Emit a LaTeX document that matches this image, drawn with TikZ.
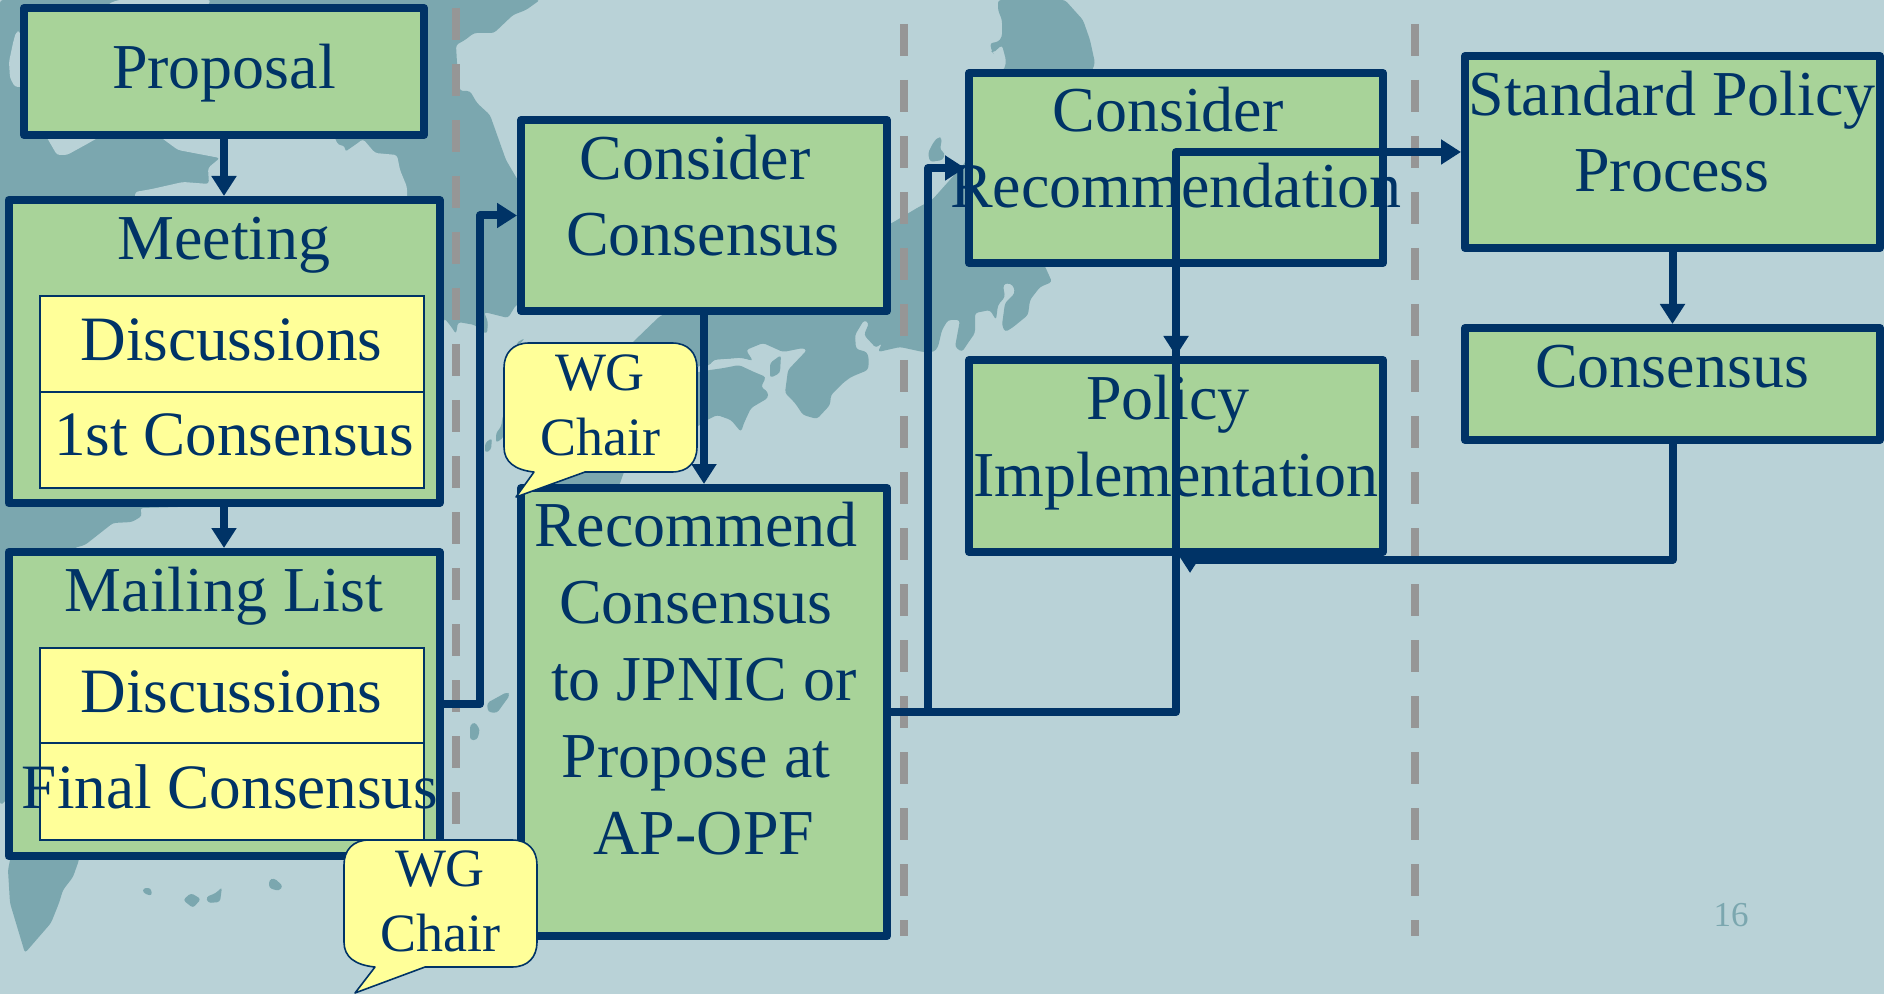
\documentclass[tikz,border=0pt]{standalone}
\usepackage{fontspec}
\setmainfont{Liberation Serif}
\usetikzlibrary{arrows.meta}

\definecolor{seablue}{HTML}{B9D2D7}
\definecolor{landblue}{HTML}{7BA7AF}
\definecolor{boxgreen}{HTML}{A8D399}
\definecolor{noteyellow}{HTML}{FFFF99}
\definecolor{linenavy}{HTML}{003366}
\definecolor{dashgray}{HTML}{969696}

% trailing blank of a centred line
\newcommand{\tailsp}{\hbox to .25em{}}

\tikzset{
	land/.style={fill=landblue, rounded corners=1.5pt},
	sea/.style={fill=seablue, rounded corners=1.5pt},
	phase/.style={draw=dashgray, line width=4pt, dash pattern=on 16pt off 12pt},
	stagebox/.style={draw=linenavy, fill=boxgreen, line width=4pt, line join=round, inner sep=0pt},
	notebox/.style={draw=linenavy, fill=noteyellow, line width=1pt, inner sep=0pt},
	boxtext/.style={text=linenavy, inner sep=0pt, align=center, anchor=base, font=\fontsize{32}{38.4}\selectfont},
	notetext/.style={boxtext, font=\fontsize{31.6}{38}\selectfont},
	chairtext/.style={text=linenavy, inner sep=0pt, align=center, anchor=base, font=\fontsize{27}{32.4}\selectfont},
	bubble/.style={draw=linenavy, fill=noteyellow, line width=.8pt, line join=round},
	flow/.style={color=linenavy, line width=4pt, line join=round, -{Triangle[length=10pt,width=12pt]}}
}

\begin{document}
\begin{tikzpicture}[x=.5pt, y=-.5pt]
\useasboundingbox (0,0) rectangle (1884,994);
\fill[seablue] (0,0) rectangle (1884,994);

% map
\path[land] (0,0) -- (540,0) -- (526,10) -- (513,15) -- (494,33) -- (474,33) -- (465,40) -- (456,45) -- (457,63) -- (460,91) -- (470,91) -- (477,103) -- (490,115) -- (506,160) -- (516,177) -- (530,200) -- (530,300) -- (516,305) -- (508,318) -- (484,312) -- (488,322) -- (487,334) -- (480,330) -- (475,325) -- (458,322) -- (456,334) -- (450,325) -- (444,318) -- (440,500) -- (140,508) -- (142,516) -- (132,522) -- (113,523) -- (85,545) -- (74,548) -- (50,700) -- (5,802) -- (0,805) -- cycle;
\path[sea] (16,32) -- (20,31) -- (24,87) -- (15,87) -- (10,78) -- (9,62) -- (13,43) -- cycle;
\path[sea] (108,4) -- (118,0) -- (211,0) -- (206,8) -- (108,8) -- cycle;
\path[sea] (46,136) -- (57,155) -- (67,155) -- (87,144) -- (101,136) -- cycle;
\path[sea] (159,136) -- (178,150) -- (220,158) -- (208,168) -- (209,184) -- (183,182) -- (152,189) -- (135,192) -- (135,200) -- (407,200) -- (407,187) -- (400,170) -- (397,155) -- (375,153) -- (363,139) -- (358,143) -- (345,152) -- (345,146) -- (338,145) -- (334,136) -- cycle;
\path[land] (660,316) -- (633,342) -- (560,440) -- (530,486) -- (619,486) -- (624,472) -- (640,440) -- (697,427) -- (700,366) -- (709,366) -- (714,360) -- (741,358) -- (753,361) -- (746,350) -- (763,343) -- (783,352) -- (803,348) -- (807,350) -- (788,370) -- (785,393) -- (795,403) -- (803,415) -- (817,419) -- (830,405) -- (831,395) -- (843,383) -- (851,377) -- (868,370) -- (869,360) -- (867,352) -- (856,349) -- (855,335) -- (864,320) -- (869,323) -- (864,335) -- (876,348) -- (882,343) -- (878,352) -- (900,347) -- (923,352) -- (934,352) -- (938,347) -- (942,330) -- (948,320) -- (960,320) -- (955,347) -- (962,352) -- (968,343) -- (975,333) -- (975,313) -- (990,310) -- (996,320) -- (998,305) -- (1005,297) -- (1003,285) -- (1007,283) -- (1013,285) -- (1015,293) -- (1005,303) -- (1002,325) -- (1005,332) -- (1012,328) -- (1028,315) -- (1030,300) -- (1040,287) -- (1052,282) -- (1043,262) -- (1093,68) -- (1095,63) -- (1090,40) -- (1083,20) -- (1065,0) -- (998,0) -- (998,10) -- (1002,20) -- (1002,37) -- (998,42) -- (990,43) -- (992,52) -- (993,53) -- (1002,45) -- (1006,60) -- (1005,68) -- (970,100) -- (965,163) -- (932,200) -- (917,208) -- (892,223) -- (700,300) -- cycle;
\path[sea] (697,366) -- (709,366) -- (714,360) -- (741,358) -- (753,361) -- (760,375) -- (770,390) -- (770,440) -- (697,440) -- cycle;
\path[land] (710,370) -- (724,368) -- (739,365) -- (754,372) -- (766,377) -- (761,387) -- (768,392) -- (768,398) -- (751,408) -- (744,423) -- (741,432) -- (731,420) -- (717,415) -- (707,420) -- (697,427) -- (677,427) -- (670,397) -- (670,377) -- cycle;
\path[land] (770,363) -- (781,355) -- (780,373) -- (770,378) -- cycle;
\path[land] (928,153) -- (933,143) -- (938,137) -- (942,138) -- (940,150) -- (945,153) -- (943,160) -- (930,162) -- cycle;
\path[land] (12,850) -- (79,850) -- (79,860) -- (73,877) -- (63,890) -- (59,903) -- (51,923) -- (25,953) -- (10,903) -- (8,870) -- cycle;
\path[land] (485,443) -- (492,438) -- (491,450) -- (485,453) -- cycle;
\path[land] (496,433) -- (501,427) -- (503,415) -- (504,437) -- (496,443) -- cycle;
\path[land] (516,343) -- (525,338) -- (519,345) -- cycle;
\path[land] (143,888) -- (151,888) -- (152,896) -- (143,893) -- cycle;
\path[land] (183,900) -- (191,893) -- (201,899) -- (193,908) -- cycle;
\path[land] (206,897) -- (216,893) -- (222,887) -- (220,902) -- (208,903) -- cycle;
\path[land] (269,880) -- (274,878) -- (283,886) -- (279,891) -- (269,888) -- cycle;
\path[land] (487,703) -- (507,692) -- (510,695) -- (497,713) -- (488,712) -- cycle;
\path[land] (470,725) -- (475,722) -- (480,730) -- (477,740) -- (470,740) -- cycle;
\path[land] (451,752) -- (456,750) -- (460,753) -- (455,757) -- cycle;

\foreach \x/\y in {456/8, 904/24, 1415/24}
	\draw[phase] (\x,\y) -- (\x,936);

% first column
\node[stagebox, minimum width=200pt, minimum height=63.5pt] (proposal) at (224,71.5) {};
\node[stagebox, minimum width=215.5pt, minimum height=151.5pt] (meeting) at (224,351.5) {};
\node[stagebox, minimum width=215.5pt, minimum height=152pt] (mailing) at (224,704) {};
\node[notebox, minimum width=192pt, minimum height=48pt] (meetdisc) at (232,344) {};
\node[notebox, minimum width=192pt, minimum height=48pt] (meetfirst) at (232,440) {};
\node[notebox, minimum width=192pt, minimum height=47.5pt] (maildisc) at (232,695.5) {};
\node[notebox, minimum width=192pt, minimum height=48.5pt] (mailfinal) at (232,791.5) {};
\node[boxtext] (proposaltext) at (224,89) {Proposal};
\node[boxtext] (meetingtext) at (224,260) {Meeting};
\node[notetext] (meetdisctext) at (231.5,361) {Discussions};
\node[notetext] (meetfirsttext) at (234,456) {1st Consensus};
\node[boxtext] (mailingtext) at (224,611) {Mailing List};
\node[notetext] (maildisctext) at (231.5,712) {Discussions};
\node[notetext] (mailfinaltext) at (230,808) {Final Consensus};

% second column
\node[stagebox, minimum width=183pt, minimum height=95.5pt] (considercons) at (704,215.5) {};
\node[stagebox, minimum width=183pt, minimum height=224pt] (recommend) at (704,712) {};
\node[boxtext] (considerconstext) at (703,256) {Consider\tailsp\\Consensus};
\node[boxtext] (recommendtext) at (704,854) {Recommend\tailsp\\Consensus\tailsp\\to JPNIC or\\Propose at\tailsp\\AP-OPF};

% third and fourth column
\node[stagebox, minimum width=207pt, minimum height=95pt] (considerrec) at (1176,168) {};
\node[stagebox, minimum width=207pt, minimum height=96pt] (policy) at (1176,456) {};
\node[stagebox, minimum width=207.5pt, minimum height=96pt] (standard) at (1672.5,152) {};
\node[stagebox, minimum width=207.5pt, minimum height=56pt] (consensus) at (1672.5,384) {};
\node[boxtext] (considerrectext) at (1176,208) {Consider\tailsp\\Recommendation};
\node[boxtext] (policytext) at (1176,496) {Policy\tailsp\\Implementation};
\node[boxtext] (standardtext) at (1672,192) {Standard Policy\\Process};
\node[boxtext] (consensustext) at (1672,387) {Consensus};

\node[text=landblue, inner sep=0pt, anchor=base, font=\fontsize{17.5}{21}\selectfont] (pagenumber) at (1731,926) {16};

% connectors
\coordinate (mailturn) at (480,704);
\coordinate (recturn) at (928,712);
\coordinate (splitturn) at (1176,712);
\coordinate (splittop) at (1176,152);
\coordinate (backturn) at (1190,560);
\coordinate (backend) at (1190,573);

\path[flow]
(proposal.south) edge (meeting.north)
(meeting.south) edge (mailing.north)
(considercons.south) edge (recommend.north)
(standard.south) edge (consensus.north)
(splittop) edge (policy.north)
;
\draw[flow] (mailing.east) -- (mailturn) |- (considercons.west);
\draw[flow] (recommend.east) -- (recturn) |- (considerrec.west);
\draw[flow] (recturn) -- (splitturn) |- (standard.west);
\draw[flow] (consensus.south) |- (backturn) -- (backend);

% chair notes
\draw[bubble] (585,472) -- (672,472) .. controls (688,472) and (697,462) .. (697,447) -- (697,368) .. controls (697,353) and (688,343) .. (672,343) -- (529,343) .. controls (513,343) and (504,353) .. (504,368) -- (504,447) .. controls (504,462) and (515,470) .. (534,472) -- (516,497) -- cycle;
\node[chairtext] (chairone) at (600,455) {WG\\Chair};
\draw[bubble] (425,967) -- (512,967) .. controls (528,967) and (537,957) .. (537,942) -- (537,865) .. controls (537,850) and (528,840) .. (512,840) -- (369,840) .. controls (353,840) and (344,850) .. (344,865) -- (344,942) .. controls (344,957) and (355,965) .. (375,967) -- (355,993) -- cycle;
\node[chairtext] (chairtwo) at (440,951) {WG\\Chair};
\end{tikzpicture}
\end{document}
